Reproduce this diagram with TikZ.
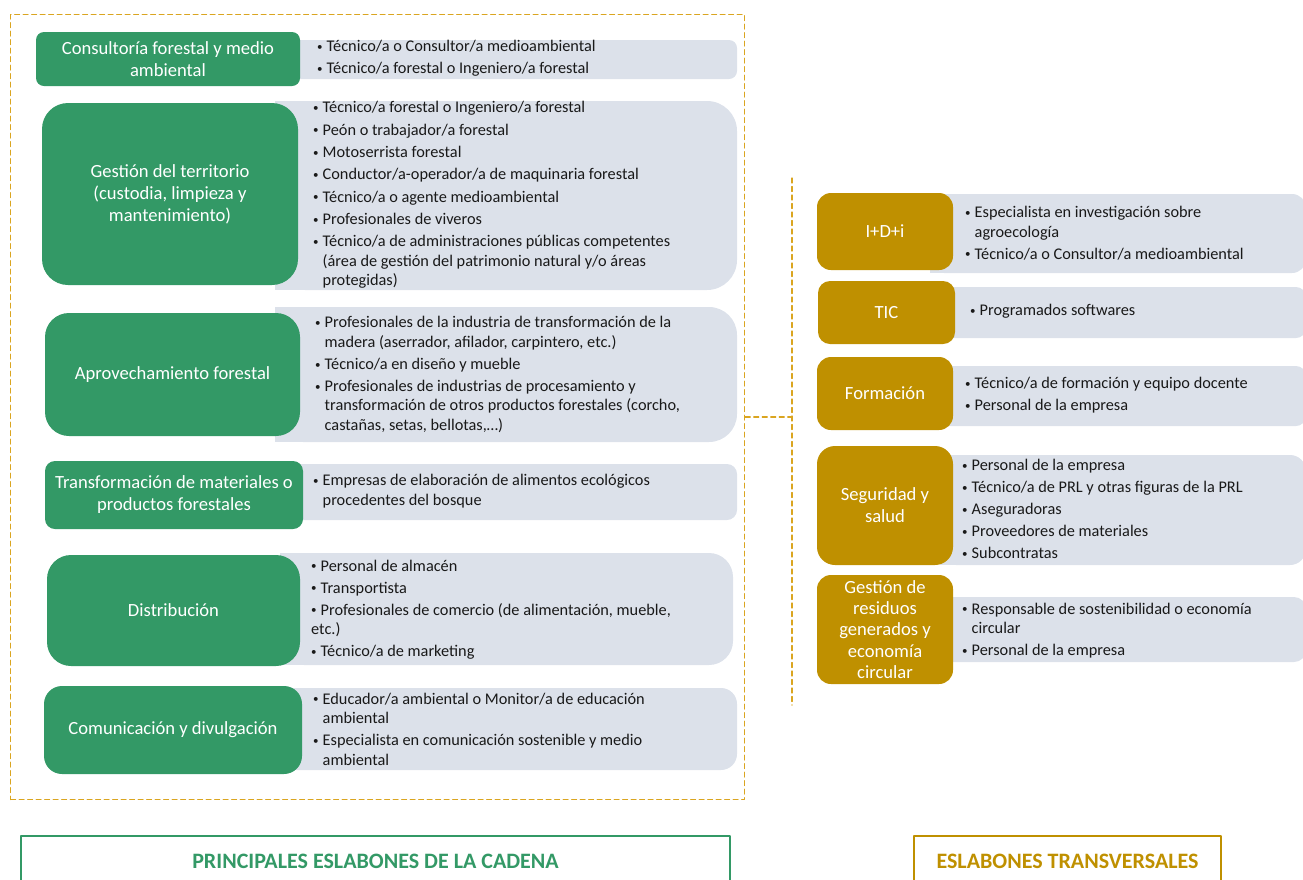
\documentclass[tikz,border=0pt]{standalone}
\usepackage{fontspec}
\setmainfont{Carlito}
\definecolor{verde}{RGB}{51,153,102}
\definecolor{oro}{RGB}{191,144,0}
\definecolor{gris}{RGB}{220,225,234}
\definecolor{trazo}{RGB}{218,165,32}
\newcommand\itm{\makebox[9.5pt][l]{\raisebox{1.2pt}{\fontsize{11}{11}\selectfont•}}}
\newcommand\sig{\hspace*{9.5pt}}
\begin{document}
\begin{tikzpicture}[x=1pt, y=-1pt, line join=round, line cap=round,
        font=\fontsize{16.3}{19.5}\selectfont,
        eslabon/.style={fill=verde, text=white, align=center, inner sep=0pt,
            font=\fontsize{18.6}{22}\selectfont},
        transversal/.style={eslabon, fill=oro},
        lista/.style={anchor=west, align=left, inner sep=0pt, text=black!90},
        marco/.style={draw=trazo, line width=1.2pt, dash pattern=on 5pt off 3.5pt},
        rotulo/.style={draw, line width=1.2pt, minimum height=50,
            font=\fontsize{22}{24}\selectfont\bfseries}]
        \useasboundingbox (0,0) rectangle (1303,879);
        
        % paneles grises
        \foreach \xa/\ya/\xb/\yb/\r in {280/40/737/79/8, 275/101/737/290/30,
            275/307/737/442/28, 283/464/737/520/10, 280/553/733/665/24,
            280/688/737/770/16, 930/194/1306/273/14, 940/287/1306/338/10,
            940/366/1306/426/10, 940/455/1306/565/16, 940/597/1306/662/12}
        {\fill[gris, rounded corners=\r] (\xa,\ya) rectangle (\xb,\yb);
         \fill[gris] (\xa,\ya) rectangle (\xa+60,\yb);}
        
        \node[marco, anchor=north west, minimum width=734, minimum height=785]
        (marco) at (10,14) {};
        \coordinate (union) at (792,417);
        \coordinate (ltop) at (792,178);
        \coordinate (lbot) at (792,705);
        \draw[marco] (union -| marco.east) -- (union) (ltop) -- (lbot);
        
        \node[eslabon, minimum width=264, minimum height=54, rounded corners=8]
        (consultoria) at (168,59) {Consultoría forestal y medio\\ambiental};
        \node[eslabon, minimum width=256, minimum height=182, rounded corners=26]
        (territorio) at (170,194) {Gestión del territorio\\(custodia, limpieza y\\mantenimiento)};
        \node[eslabon, minimum width=255, minimum height=123, rounded corners=24]
        (aprovechamiento) at (172.5,374.5) {Aprovechamiento forestal};
        \node[eslabon, minimum width=258, minimum height=68, rounded corners=10]
        (transformacion) at (174,495) {Transformación de materiales o\\productos forestales};
        \node[eslabon, minimum width=253, minimum height=111, rounded corners=24]
        (distribucion) at (173.5,610.5) {Distribución};
        \node[eslabon, minimum width=258, minimum height=88, rounded corners=18]
        (comunicacion) at (173,730) {Comunicación y divulgación};
        
        \node[lista] (lconsultoria) at (317,58.5) {\itm Técnico/a o Consultor/a medioambiental\\[2.5pt]
            \itm Técnico/a forestal o Ingeniero/a forestal};
        \node[lista] (lterritorio) at (313,195) {\itm Técnico/a forestal o Ingeniero/a forestal\\[2.8pt]
            \itm Peón o trabajador/a forestal\\[2.8pt]
            \itm Motoserrista forestal\\[2.8pt]
            \itm Conductor/a-operador/a de maquinaria forestal\\[2.8pt]
            \itm Técnico/a o agente medioambiental\\[2.8pt]
            \itm Profesionales de viveros\\[2.8pt]
            \itm Técnico/a de administraciones públicas competentes\\
            \sig(área de gestión del patrimonio natural y/o áreas\\
            \sig protegidas)};
        \node[lista] (laprovechamiento) at (315,374.5) {\itm Profesionales de la industria de transformación de la\\
            \sig madera (aserrador, afilador, carpintero, etc.)\\[2.5pt]
            \itm Técnico/a en diseño y mueble\\[2.5pt]
            \itm Profesionales de industrias de procesamiento y\\
            \sig transformación de otros productos forestales (corcho,\\
            \sig castañas, setas, bellotas,…)};
        \node[lista] (ltransformacion) at (313,491) {\itm Empresas de elaboración de alimentos ecológicos\\
            \sig procedentes del bosque};
        \node[lista] (ldistribucion) at (311,609.5) {\itm Personal de almacén\\[2.5pt]
            \itm Transportista\\[2.5pt]
            \itm Profesionales de comercio (de alimentación, mueble,\\
            etc.)\\[2.5pt]
            \itm Técnico/a de marketing};
        \node[lista] (lcomunicacion) at (313,729) {\itm Educador/a ambiental o Monitor/a de educación\\
            \sig ambiental\\[2.5pt]
            \itm Especialista en comunicación sostenible y medio\\
            \sig ambiental};
        
        \node[transversal, minimum width=136, minimum height=77, rounded corners=14]
        (idi) at (885,231.5) {I+D+i};
        \node[transversal, minimum width=137, minimum height=63, rounded corners=12]
        (tic) at (886.5,312.5) {TIC};
        \node[transversal, minimum width=136, minimum height=73, rounded corners=14]
        (formacion) at (885,393.5) {Formación};
        \node[transversal, minimum width=136, minimum height=119, rounded corners=18]
        (seguridad) at (885,505.5) {Seguridad y\\salud};
        \node[transversal, minimum width=136, minimum height=109, rounded corners=14,
            font=\fontsize{18.6}{21.3}\selectfont]
        (residuos) at (885,629.5) {Gestión de\\residuos\\generados y\\economía\\circular};
        
        \node[lista] (lidi) at (965,233) {\itm Especialista en investigación sobre\\
            \sig agroecología\\[2.5pt]
            \itm Técnico/a o Consultor/a medioambiental};
        \node[lista] (ltic) at (970,311.5) {\itm Programados softwares};
        \node[lista] (lformacion) at (965,395) {\itm Técnico/a de formación y equipo docente\\[2.5pt]
            \itm Personal de la empresa};
        \node[lista] (lseguridad) at (962,509) {\itm Personal de la empresa\\[2.5pt]
            \itm Técnico/a de PRL y otras figuras de la PRL\\[2.5pt]
            \itm Aseguradoras\\[2.5pt]
            \itm Proveedores de materiales\\[2.5pt]
            \itm Subcontratas};
        \node[lista] (lresiduos) at (962,630.5) {\itm Responsable de sostenibilidad o economía\\
            \sig circular\\[2.5pt]
            \itm Personal de la empresa};
        
        \node[rotulo, draw=verde, text=verde, minimum width=709]
        (principales) at (375.5,861) {PRINCIPALES ESLABONES DE LA CADENA};
        \node[rotulo, draw=oro, text=oro, minimum width=307]
        (transversales) at (1067.5,861) {ESLABONES TRANSVERSALES};
    \end{tikzpicture}
\end{document}
